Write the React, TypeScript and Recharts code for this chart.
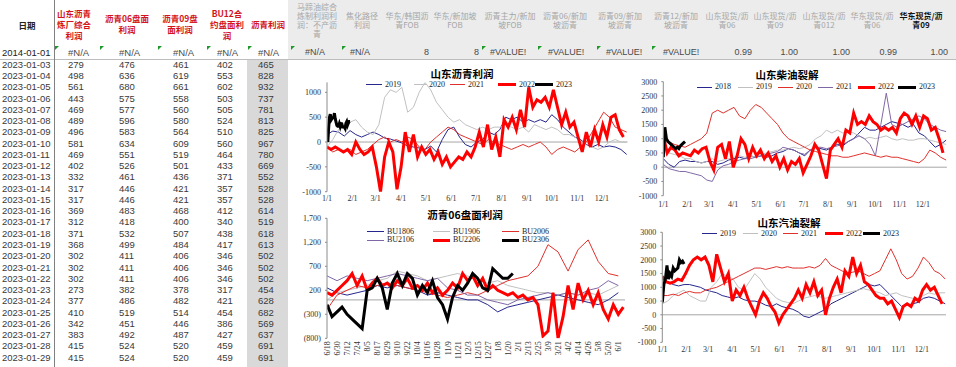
import React from 'react';
import { LineChart, Line, XAxis, YAxis, ReferenceLine } from 'recharts';

// ---------- sheet data ----------
const SHEET_DATES = [
  '2023-01-03', '2023-01-04', '2023-01-05', '2023-01-06', '2023-01-07', '2023-01-08', '2023-01-09',
  '2023-01-10', '2023-01-11', '2023-01-12', '2023-01-13', '2023-01-14', '2023-01-15', '2023-01-16',
  '2023-01-17', '2023-01-18', '2023-01-19', '2023-01-20', '2023-01-21', '2023-01-22', '2023-01-23',
  '2023-01-24', '2023-01-25', '2023-01-26', '2023-01-27', '2023-01-28', '2023-01-29'
];
const sdRefinery = [279, 498, 561, 443, 469, 489, 496, 581, 469, 402, 332, 317, 317, 369, 312, 371, 368, 302, 302, 302, 273, 377, 410, 342, 383, 415, 415];
const bu06Margin = [476, 636, 680, 575, 577, 596, 583, 634, 551, 526, 461, 446, 446, 483, 418, 532, 499, 411, 411, 411, 382, 486, 519, 451, 492, 524, 524];
const bu09Margin = [461, 619, 661, 558, 560, 580, 564, 609, 519, 501, 436, 421, 421, 468, 400, 507, 484, 406, 406, 406, 378, 482, 514, 446, 487, 520, 520];
const bu12Margin = [402, 553, 602, 503, 505, 524, 510, 560, 464, 433, 371, 357, 357, 412, 340, 438, 417, 346, 346, 346, 317, 421, 454, 386, 427, 459, 459];
const asphaltProfit = [465, 828, 932, 737, 781, 813, 825, 967, 780, 669, 552, 528, 528, 614, 519, 618, 613, 502, 502, 502, 454, 628, 682, 569, 637, 691, 691];

const LEFT_HEADERS = [['山东沥青', '炼厂综合', '利润'], ['沥青06盘面', '利润'], ['沥青09盘', '面利润'], ['BU12合', '约盘面利', '润'], ['沥青利润']];
const RIGHT_HEADERS = [
  ['马蹄油综合', '炼制利润利', '润：不产沥', '青'], ['焦化路径', '利润'], ['华东/韩国沥', '青FOB'], ['华东/新加坡', 'FOB'],
  ['沥青主力/新加', '坡FOB'], ['沥青06/新加', '坡沥青'], ['沥青09/新加', '坡沥青'], ['沥青12/新加', '坡沥青'],
  ['山东现货/沥', '青06'], ['山东现货/沥', '青09'], ['山东现货/沥', '青012'], ['华东现货/沥', '青06'], ['华东现货/沥', '青09']
];
const FIRST_ROW_LEFT = ['2014-01-01', '#N/A', '#N/A', '#N/A', '#N/A', '#N/A'];
const FIRST_ROW_RIGHT = ['#N/A', '#N/A', '8', '8', '#VALUE!', '#VALUE!', '#VALUE!', '#VALUE!', '0.99', '1.00', '1.00', '0.99', '1.00'];

// ---------- chart data ----------
const MONTH_DAYS = [0, 31, 59, 90, 120, 151, 181, 212, 243, 273, 304, 334];
const MONTH_LABELS = ['1/1', '2/1', '3/1', '4/1', '5/1', '6/1', '7/1', '8/1', '9/1', '10/1', '11/1', '12/1'];
const BU_LABELS = ['6/18', '6/30', '7/12', '7/24', '8/5', '8/17', '8/29', '9/10', '9/22', '10/4', '10/16', '10/28', '11/9', '11/21',
  '12/3', '12/15', '12/27', '1/8', '1/20', '2/1', '2/13', '2/25', '3/9', '3/21', '4/2', '4/14', '4/26', '5/8', '5/20', '6/1'];

// 山东沥青利润 (weekly, 2022 every 5 days, 2023 daily)
const sdBit2019 = [150, 220, 200, 120, 230, 150, 100, 150, 200, 150, 80, 60, 20, -20, -80, -100, -120, -150, -80, -200, 50, 250, 300, 100, -50, -100, 0, 50, 200, 150, 250, 500, 450, 500, 400, 450, 400, 450, 400, 550, 450, 300, 200, 100, 50, -50, -100, -50, -100, -80, -100, -150, -250];
const sdBit2020 = [-100, 50, 250, 350, 400, 450, 300, 200, 150, 350, 900, 1050, 1000, 1100, 600, 700, 1000, 1200, 1050, 800, 650, 500, 400, 450, 350, 300, 250, 300, 250, 300, 300, 350, 300, 250, 300, 200, 350, 300, 250, 300, 250, 150, 150, 100, 0, 0, -100, -150, -100, 0, 50, 0, 0];
const sdBit2021 = [-100, -200, -150, -200, -150, -250, -200, -150, -50, 50, 100, 0, 50, 0, 100, 50, -100, -150, 0, 100, 200, 300, 250, 150, 100, 50, 0, -50, 50, 0, -50, -100, -150, -100, -50, -100, -50, 0, -100, -250, -150, -100, -150, -200, -100, 0, 200, 400, 600, 500, 300, 250, 200];
const sdBit2022 = [-100, -150, -100, -150, -200, -150, -250, 0, -150, -250, -200, -100, -500, -1000, -300, 0, -200, -950, -500, 200, -200, 150, -300, -100, -250, -150, -350, -200, -450, -300, -500, -400, -300, -350, -200, -300, -100, 200, -100, 350, -150, 100, -300, 450, 300, 500, 250, 650, 300, 1100, 700, 850, 800, 900, 700, 1050, 700, 350, 600, 300, 400, 100, -200, 200, -100, 250, 0, 350, 100, 500, 550, 250, 100];
const sdBit2023 = [0, 279, 498, 561, 443, 469, 489, 496, 581, 469, 402, 332, 317, 317, 369, 312, 371, 368, 302, 302, 302, 273, 377, 410, 342, 383, 415, 415];

// 沥青06盘面利润 (thin every 12 days, thick every 6 days)
const bu1806 = [250, 150, 100, 150, 200, 300, 250, 300, 250, 200, 100, 150, 100, 50, 0, 0, -100, -250, -150, -100, -50, 0, 50, 100, 50, 0, -50, -100, 0, 150];
const bu1906 = [0, 150, 200, 250, 300, 400, 450, 600, 550, 500, 400, 450, 500, 550, 500, 400, 350, 400, 300, 250, 200, 150, 150, 100, 150, 100, 150, 100, 200, 300];
const bu2006 = [-200, 100, 200, 300, 250, 300, 350, 300, 250, 200, 150, 100, 50, 100, 150, 100, 200, 300, 400, 450, 500, 700, 1150, 1000, 600, 1050, 1250, 800, 550, 500];
const bu2106 = [500, 400, 500, 450, 400, 450, 500, 550, 500, 450, 400, 450, 250, 200, 100, 100, 0, -50, -100, 0, 50, 100, 150, 100, 150, 100, 200, 250, 400, 300];
const bu2206 = [150, 100, 200, 300, 400, 550, 300, 500, 200, 350, 450, 300, 350, 250, 400, 300, 450, 250, 300, 200, 350, 150, 250, 100, 200, 350, 250, 550, 400, 500, 300, 450, 200, 300, 200, 150, 100, 150, 50, 100, 0, 50, -100, -750, -650, 150, -800, -350, 300, -200, 350, 0, 200, -100, 150, -200, -400, -100, -300, -150];
const bu2306 = [-100, -350, -250, -150, -300, -400, -500, -600, 200, 250, 450, 250, -200, 350, 550, 300, 550, 450, 100, 300, 150, 400, 50, -100, -400, 50, 300, 200, 350, 550, 450, 250, 200, 650, 550, 450, 450, 550];

// 山东柴油裂解
const dsl2018 = [300, 100, 0, 200, 250, 200, 200, 150, 200, 200, 100, 150, 250, 300, 350, 300, 400, 350, 400, 350, 400, 500, 550, 650, 600, 500, 400, 600, 700, 650, 600, 700, 800, 750, 900, 1000, 1200, 1400, 1300, 1300, 1400, 1500, 1600, 1550, 1500, 1400, 1500, 1200, 1100, 900, 700, 800, 950];
const dsl2019 = [700, 500, 450, 400, 300, 300, 200, 150, 200, 300, 200, 250, 300, 350, 400, 350, 400, 350, 450, 500, 550, 600, 600, 650, 700, 650, 700, 800, 1000, 1100, 1300, 1200, 1300, 1200, 1250, 1200, 1100, 1000, 1050, 1000, 1050, 1100, 1000, 950, 1000, 950, 950, 1000, 1000, 950, 900, 850, 800];
const dsl2020 = [1100, 900, 800, 750, 700, 800, 900, 1000, 1200, 1900, 2000, 1900, 2000, 2100, 1800, 1700, 2000, 2200, 2100, 1900, 1700, 1500, 1200, 1000, 900, 800, 700, 600, 550, 500, 450, 400, 400, 350, 350, 400, 450, 500, 450, 400, 350, 400, 350, 350, 300, 250, 200, 150, 300, 600, 500, 350, 250];
const dsl2021 = [100, -50, -100, -150, -150, -200, -250, -300, -450, -500, -100, 50, 100, 200, 250, 300, 300, 350, 400, 450, 500, 550, 700, 650, 600, 500, 450, 600, 700, 700, 650, 700, 750, 800, 900, 1000, 1100, 1000, 800, 400, 1500, 2600, 1500, 1400, 1500, 1600, 1700, 1800, 1700, 1500, 1400, 1300, 1250];
const dsl2022 = [1100, 500, 700, 600, 400, 500, 450, 400, 600, 500, 650, 700, 200, -100, 700, 800, 300, 900, 0, 400, 1000, 800, 300, 700, 400, 600, 300, 500, 200, 400, 0, 300, -100, 200, 100, 300, -200, 100, 400, 800, 600, 100, -400, 600, 800, 1000, 700, 1300, 1200, 1900, 1500, 1600, 1500, 1800, 1600, 1500, 1300, 1400, 1300, 1400, 1200, 1700, 1900, 1800, 1500, 1800, 1400, 1800, 1700, 1300, 1400, 1000, 500];
const dsl2023 = [350, 1400, 1000, 900, 850, 800, 750, 700, 650, 700, 650, 750, 800, 850, 900];

// 山东汽油裂解
const gsl2019 = [1300, 1200, 1100, 1050, 1100, 1100, 1050, 1000, 900, 850, 800, 700, 650, 600, 650, 550, 500, 500, 450, 350, 300, 400, 300, 250, 200, 100, -50, -100, 0, 100, 200, 400, 500, 600, 700, 800, 900, 1000, 1100, 1050, 1100, 900, 700, 500, 300, 350, 400, 450, 600, 650, 600, 500, 400];
const gsl2020 = [400, 500, 700, 800, 900, 700, 600, 500, 500, 1000, 1200, 1500, 1400, 1300, 1000, 900, 1200, 1500, 1300, 1000, 800, 600, 500, 450, 400, 500, 600, 650, 700, 650, 600, 650, 700, 750, 800, 850, 900, 950, 900, 850, 800, 700, 750, 800, 700, 650, 600, 600, 700, 800, 750, 800, 800];
const gsl2021 = [700, 700, 750, 700, 800, 850, 800, 800, 900, 950, 1000, 1100, 1200, 1300, 1400, 1500, 1600, 1700, 1700, 1650, 1700, 1750, 1700, 1750, 1700, 1700, 1700, 1750, 1700, 1800, 2050, 1800, 1700, 1600, 1500, 1550, 1600, 1500, 1400, 1500, 1600, 2000, 2400, 2000, 1500, 1300, 1400, 1700, 2100, 1900, 1600, 1500, 1300];
const gsl2022 = [1400, 1200, 1150, 1200, 1300, 1250, 1500, 1800, 2000, 2100, 2000, 2100, 1800, 1200, 2200, 1700, 1200, 1500, 500, 900, 700, 1000, 600, 300, 0, 500, 800, 600, 300, 100, -300, 0, 200, 400, 600, 900, 600, 1100, 800, 1200, 700, 900, 0, 600, 1000, 1300, 800, 1600, 1400, 2100, 1500, 1800, 1200, 1100, 900, 700, 600, 600, 400, 500, 200, -100, 300, 400, 300, 600, 500, 900, 1100, 900, 1000, 700, 400];
const gsl2023 = [450, 1100, 1300, 1800, 1300, 1500, 1400, 1700, 1600, 1650, 1700, 2000, 1900, 1950, 1850];

// ---------- helpers ----------
const SERIF = '"Liberation Serif", "Times New Roman", serif';
const CJK = '"Noto Sans CJK SC", sans-serif';
const SANS = '"Liberation Sans", Arial, sans-serif';

const NAVY = '#26268c';
const GRAY = '#c0c0c0';
const THIN_RED = '#e0302c';
const RED = '#ff0000';
const PURPLE = '#8068a6';
const BLACK = '#000000';

const pts = (values: number[], step: number, start = 0) => values.map((y, i) => ({ x: start + i * step, y }));

type Ser = { name: string; data: { x: number; y: number }[]; color: string; width: number };

const monthFmt = (v: number) => MONTH_LABELS[MONTH_DAYS.indexOf(v)] ?? '';
const parenFmt = (v: number) => (v < 0 ? `(${Math.abs(v).toLocaleString('en-US')})` : v.toLocaleString('en-US'));

const RotTick = (p: any) => {
  const label = BU_LABELS[Math.round(p.payload.value / 12)] ?? '';
  return (
    <text x={p.x} y={p.y} transform={`rotate(-90 ${p.x} ${p.y})`} textAnchor="end" dy={3}
      fontSize={8} fill="#333" fontFamily={SERIF}>{label}</text>
  );
};

interface ChartProps {
  left: number; top: number; width: number; height: number;
  margin: { top: number; right: number; bottom: number; left: number };
  yWidth: number; yDomain: [number, number]; yTicks: number[]; yFmt?: (v: number) => string;
  xDomain: [number, number]; xTicks: number[]; xFmt?: (v: number) => string;
  xHeight: number; xTickMargin: number; rotateX?: boolean;
  series: Ser[];
  title: string; titleX: number; titleY: number;
  legend: { x: number; y: number; len: number }[];
}

const ProfitChart: React.FC<ChartProps> = (p) => (
  <>
    <div style={{ position: 'absolute', left: p.left, top: p.top, width: p.width, height: p.height }}>
      <LineChart width={p.width} height={p.height} margin={p.margin}>
        <XAxis type="number" dataKey="x" domain={p.xDomain} ticks={p.xTicks} interval={0} allowDataOverflow
          tickFormatter={p.xFmt} axisLine={false} tickLine={false} tickSize={0} tickMargin={p.xTickMargin}
          height={p.xHeight}
          tick={p.rotateX ? <RotTick /> : { fontSize: 8, fill: '#333', fontFamily: SERIF }} />
        <YAxis type="number" domain={p.yDomain} ticks={p.yTicks} interval={0} allowDataOverflow width={p.yWidth}
          tickFormatter={p.yFmt} axisLine={{ stroke: '#8c8c8c' }} tickLine={{ stroke: '#8c8c8c' }}
          tickSize={2} tickMargin={4} tick={{ fontSize: 8, fill: '#333', fontFamily: SERIF }} />
        <ReferenceLine y={0} stroke="#a6a6a6" strokeWidth={1} />
        {p.series.map(s => (
          <Line key={s.name} data={s.data} dataKey="y" name={s.name} type="linear" stroke={s.color}
            strokeWidth={s.width} dot={false} activeDot={false} isAnimationActive={false} />
        ))}
      </LineChart>
    </div>
    <div style={{
      position: 'absolute', left: p.titleX, top: p.titleY - 6, transform: 'translateX(-50%)', whiteSpace: 'nowrap',
      fontFamily: CJK, fontWeight: 700, fontSize: 10.5, lineHeight: '11px', color: '#000'
    }}>{p.title}</div>
    {p.series.map((s, i) => {
      const pos = p.legend[i];
      return (
        <div key={s.name} style={{ position: 'absolute', left: pos.x, top: pos.y - 4, height: 8, display: 'flex', alignItems: 'center' }}>
          <div style={{ width: pos.len, height: s.width, background: s.color }} />
          <span style={{ marginLeft: 3, fontFamily: SERIF, fontSize: 8, color: '#222', lineHeight: '8px' }}>{s.name}</span>
        </div>
      );
    })}
  </>
);

// ---------- sheet ----------
const COL_X = [2, 68, 119, 173, 217, 258];
const LEFT_HEAD_X = [74, 127, 180, 227, 268];
const RIGHT_HEAD_X = [317, 362, 407, 455, 510, 565, 620, 676, 727, 775, 824, 872, 921];
const RIGHT_ROW_POS: [number, 'l' | 'r'][] = [[305, 'l'], [350, 'l'], [429, 'r'], [479, 'r'], [490, 'l'], [548, 'l'], [606, 'l'], [663, 'l'], [752, 'r'], [798, 'r'], [850, 'r'], [897, 'r'], [948, 'r']];
const FLAG_X = [55, 100, 158, 207, 248, 291, 342, 482, 538, 597, 652];
const ROW_TOP = 58.7;
const ROW_H = 11.27;

const cellText = (x: number, y: number, text: string, align: 'l' | 'r', style: React.CSSProperties, key: string) => (
  <div key={key} style={{
    position: 'absolute', left: x, top: y + 1, height: ROW_H - 2, lineHeight: `${ROW_H - 2}px`, whiteSpace: 'nowrap',
    ...(align === 'r' ? { transform: 'translateX(-100%)' } : {}), ...style
  }}>{text}</div>
);

const Sheet: React.FC = () => {
  const cols = [sdRefinery, bu06Margin, bu09Margin, bu12Margin, asphaltProfit];
  const numStyle: React.CSSProperties = { fontFamily: SANS, fontSize: 9.5, color: '#3a3a3a' };
  return (
    <>
      <div style={{ position: 'absolute', left: 288, top: 0, width: 668, height: 59, background: '#ececec' }} />
      <div style={{ position: 'absolute', left: 247, top: 59, width: 41, height: 308, background: '#d9d9d9' }} />
      <div style={{ position: 'absolute', left: 0, top: 59, width: 956, height: 1, background: '#bdbdbd' }} />
      <div style={{ position: 'absolute', left: 54, top: 0, width: 1, height: 367, background: '#808080' }} />
      <div style={{ position: 'absolute', left: 27, top: 19, transform: 'translateX(-50%)', lineHeight: '12px', fontFamily: CJK, fontWeight: 700, fontSize: 8.5, color: '#222' }}>日期</div>
      {LEFT_HEADERS.map((lines, i) => (
        <div key={'lh' + i} style={{
          position: 'absolute', left: LEFT_HEAD_X[i], top: 24 - lines.length * 5.5, transform: 'translateX(-50%)',
          textAlign: 'center', whiteSpace: 'pre',
          fontFamily: CJK, fontWeight: 700, fontSize: 8.5, lineHeight: '11px', color: '#d4131a'
        }}>{lines.join('\n')}</div>
      ))}
      {RIGHT_HEADERS.map((lines, i) => {
        const last = i === RIGHT_HEADERS.length - 1;
        return (
          <div key={'rh' + i} style={{
            position: 'absolute', left: RIGHT_HEAD_X[i], top: 20 - lines.length * 4.5, transform: 'translateX(-50%)',
            textAlign: 'center', whiteSpace: 'pre',
            fontFamily: CJK, fontWeight: last ? 700 : 400, fontSize: 8, lineHeight: '9px', color: last ? '#111' : '#a6a6a6'
          }}>{lines.join('\n')}</div>
        );
      })}
      {FLAG_X.map((x, i) => (
        <div key={'f' + i} style={{
          position: 'absolute', left: x, top: 46, width: 0, height: 0,
          borderTop: '4px solid #1f9a2a', borderRight: '4px solid transparent'
        }} />
      ))}
      {FIRST_ROW_LEFT.map((t, i) => cellText(COL_X[i], 46.6, t, 'l', { ...numStyle, color: i === 0 ? '#222' : '#4a4a4a' }, 'fl' + i))}
      {FIRST_ROW_RIGHT.map((t, i) => cellText(RIGHT_ROW_POS[i][0], 46.6, t, RIGHT_ROW_POS[i][1], { ...numStyle, fontSize: 9, color: '#4a4a4a' }, 'fr' + i))}
      {SHEET_DATES.map((d, r) => (
        <React.Fragment key={d}>
          {cellText(COL_X[0], ROW_TOP + r * ROW_H, d, 'l', numStyle, d + 'd')}
          {cols.map((c, ci) => cellText(COL_X[ci + 1], ROW_TOP + r * ROW_H, String(c[r]), 'l', numStyle, d + ci))}
        </React.Fragment>
      ))}
    </>
  );
};

export default function App() {
  const chart1: Ser[] = [
    { name: '2019', data: pts(sdBit2019, 7), color: NAVY, width: 1 },
    { name: '2020', data: pts(sdBit2020, 7), color: GRAY, width: 1 },
    { name: '2021', data: pts(sdBit2021, 7), color: THIN_RED, width: 1 },
    { name: '2022', data: pts(sdBit2022, 5), color: RED, width: 3 },
    { name: '2023', data: pts(sdBit2023, 1, 1), color: BLACK, width: 3 }
  ];
  const chart2: Ser[] = [
    { name: 'BU1806', data: pts(bu1806, 12), color: NAVY, width: 1 },
    { name: 'BU1906', data: pts(bu1906, 12), color: GRAY, width: 1 },
    { name: 'BU2006', data: pts(bu2006, 12), color: THIN_RED, width: 1 },
    { name: 'BU2106', data: pts(bu2106, 12), color: PURPLE, width: 1 },
    { name: 'BU2206', data: pts(bu2206, 6), color: RED, width: 3 },
    { name: 'BU2306', data: pts(bu2306, 6), color: BLACK, width: 3 }
  ];
  const chart3: Ser[] = [
    { name: '2018', data: pts(dsl2018, 7), color: NAVY, width: 1 },
    { name: '2019', data: pts(dsl2019, 7), color: GRAY, width: 1 },
    { name: '2020', data: pts(dsl2020, 7), color: THIN_RED, width: 1 },
    { name: '2021', data: pts(dsl2021, 7), color: PURPLE, width: 1 },
    { name: '2022', data: pts(dsl2022, 5), color: RED, width: 3 },
    { name: '2023', data: pts(dsl2023, 2), color: BLACK, width: 3 }
  ];
  const chart4: Ser[] = [
    { name: '2019', data: pts(gsl2019, 7), color: NAVY, width: 1 },
    { name: '2020', data: pts(gsl2020, 7), color: GRAY, width: 1 },
    { name: '2021', data: pts(gsl2021, 7), color: THIN_RED, width: 1 },
    { name: '2022', data: pts(gsl2022, 5), color: RED, width: 3 },
    { name: '2023', data: pts(gsl2023, 2), color: BLACK, width: 3 }
  ];
  const buTicks = BU_LABELS.map((_, i) => i * 12);

  return (
    <div style={{ position: 'fixed', left: 0, top: 0, width: 956, height: 367, overflow: 'hidden', background: '#fff' }}>
      <Sheet />
      <ProfitChart left={290} top={60} width={340} height={145}
        margin={{ top: 22.4, right: 2.5, bottom: 0, left: 0 }} yWidth={37}
        yDomain={[-1000, 1200]} yTicks={[-1000, -500, 0, 500, 1000]}
        xDomain={[0, 365]} xTicks={MONTH_DAYS} xFmt={monthFmt} xHeight={13.3} xTickMargin={4}
        series={chart1} title="山东沥青利润" titleX={462} titleY={74}
        legend={[{ x: 366, y: 84.5, len: 16 }, { x: 414, y: 84.5, len: 12 }, { x: 450, y: 84.5, len: 15 }, { x: 498, y: 84.5, len: 18 }, { x: 535, y: 84.5, len: 18 }]} />
      <ProfitChart left={290} top={200} width={340} height={167}
        margin={{ top: 18.3, right: 5, bottom: 0, left: 0 }} yWidth={37}
        yDomain={[-800, 1700]} yTicks={[-800, -300, 200, 700, 1200, 1700]} yFmt={parenFmt}
        xDomain={[0, 356]} xTicks={buTicks} xHeight={28.7} xTickMargin={3} rotateX
        series={chart2} title="沥青06盘面利润" titleX={465} titleY={215}
        legend={[{ x: 367, y: 231.7, len: 17 }, { x: 433, y: 231.7, len: 17 }, { x: 502, y: 231.7, len: 17 },
          { x: 367, y: 240, len: 17 }, { x: 433, y: 240, len: 17 }, { x: 502, y: 240, len: 17 }]} />
      <ProfitChart left={630} top={60} width={326} height={150}
        margin={{ top: 21.7, right: 9.1, bottom: 0, left: 0 }} yWidth={33.3}
        yDomain={[-1000, 3000]} yTicks={[-1000, -500, 0, 500, 1000, 1500, 2000, 2500, 3000]}
        xDomain={[0, 365]} xTicks={MONTH_DAYS} xFmt={monthFmt} xHeight={14.3} xTickMargin={6}
        series={chart3} title="山东柴油裂解" titleX={787} titleY={75}
        legend={[{ x: 697, y: 87, len: 15 }, { x: 738, y: 87, len: 15 }, { x: 778, y: 87, len: 15 }, { x: 818, y: 87, len: 15 }, { x: 858, y: 87, len: 17 }, { x: 898, y: 87, len: 18 }]} />
      <ProfitChart left={630} top={200} width={326} height={167}
        margin={{ top: 32.3, right: 10, bottom: 0, left: 0 }} yWidth={32.3}
        yDomain={[-1000, 3000]} yTicks={[-1000, -500, 0, 500, 1000, 1500, 2000, 2500, 3000]}
        xDomain={[0, 365]} xTicks={MONTH_DAYS} xFmt={monthFmt} xHeight={24.7} xTickMargin={4}
        series={chart4} title="山东汽油裂解" titleX={789} titleY={222.5}
        legend={[{ x: 702, y: 233.5, len: 15 }, { x: 743, y: 233.5, len: 15 }, { x: 783, y: 233.5, len: 15 }, { x: 825, y: 233.5, len: 18 }, { x: 863, y: 233.5, len: 17 }]} />
    </div>
  );
}
